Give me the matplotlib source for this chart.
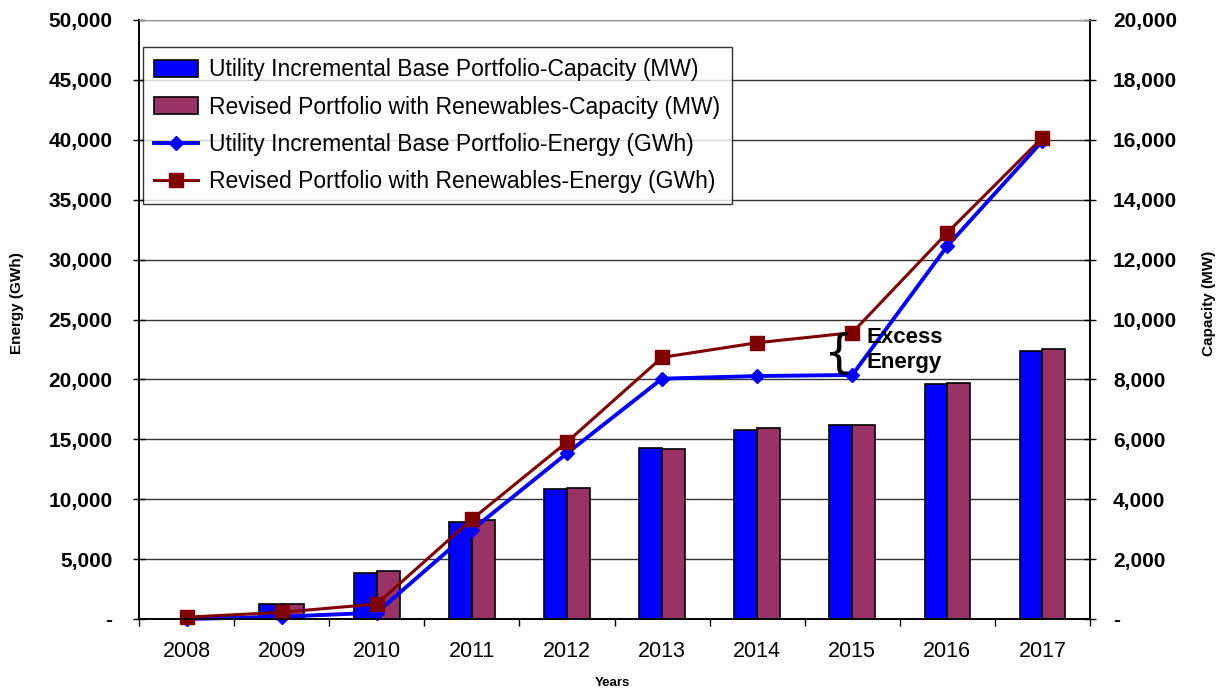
import numpy as np
import matplotlib.pyplot as plt
from matplotlib.ticker import FuncFormatter, FixedLocator

plt.rcParams['font.family'] = ['Liberation Sans', 'DejaVu Sans']

# data
years = ['2008', '2009', '2010', '2011', '2012', '2013', '2014', '2015', '2016', '2017']
base_capacity = [0, 500, 1525, 3240, 4350, 5720, 6310, 6470, 7850, 8950]      # MW
renew_capacity = [0, 500, 1600, 3295, 4365, 5675, 6365, 6470, 7890, 9025]     # MW
base_energy = [0, 190, 530, 7430, 13830, 20060, 20280, 20370, 31140, 39900]   # GWh
renew_energy = [150, 560, 1250, 8320, 14770, 21840, 23060, 23900, 32250, 40180]  # GWh

W, H = 1224, 692
fig = plt.figure(figsize=(W / 100, H / 100), dpi=100)
ax = fig.add_axes([139/W, 1 - 619/H, 951/W, 599/H])
ax2 = ax.twinx()

x = np.arange(len(years))
w = 0.24

# capacity bars on right scale
b1 = ax2.bar(x - w/2, base_capacity, w, color='#0000FF', edgecolor='black', lw=1.2,
             label='Utility Incremental Base Portfolio-Capacity (MW)', zorder=2)
b2 = ax2.bar(x + w/2, renew_capacity, w, color='#993366', edgecolor='black', lw=1.2,
             label='Revised Portfolio with Renewables-Capacity (MW)', zorder=2)

# energy lines on left scale, drawn above bars
ax.set_zorder(ax2.get_zorder() + 1)
ax.patch.set_visible(False)
l1, = ax.plot(x, base_energy, color='#0000FF', lw=2.8, marker='D', ms=7.5,
              label='Utility Incremental Base Portfolio-Energy (GWh)', clip_on=False)
l2, = ax.plot(x, renew_energy, color='#800000', lw=2.2, marker='s', ms=10,
              label='Revised Portfolio with Renewables-Energy (GWh)', clip_on=False)

ax.set_xlim(-0.5, len(years) - 0.5)
ax.set_ylim(0, 50000)
ax2.set_ylim(0, 20000)

fmt = FuncFormatter(lambda v, p: '-' if v == 0 else f'{int(v):,}')
ax.yaxis.set_major_locator(FixedLocator(np.arange(0, 50001, 5000)))
ax2.yaxis.set_major_locator(FixedLocator(np.arange(0, 20001, 2000)))
ax.yaxis.set_major_formatter(fmt)
ax2.yaxis.set_major_formatter(fmt)
ax.tick_params(axis='y', direction='inout', length=8, width=1, labelsize=15, pad=15)
ax2.tick_params(axis='y', direction='inout', length=8, width=1, labelsize=15, pad=12.5)
for a in (ax, ax2):
    for t in a.get_yticklabels():
        t.set_fontweight('bold')

ax2.grid(axis='y', color='#333333', lw=1)
ax2.set_axisbelow(True)

ax.set_xticks(x)
ax.set_xticklabels(years)
ax.set_xticks(np.arange(-0.5, len(years), 1), minor=True)
ax.tick_params(axis='x', which='major', length=0, labelsize=15.5, pad=16)
ax.tick_params(axis='x', which='minor', direction='out', length=5, width=1)

for a in (ax, ax2):
    a.spines['top'].set_color('#999999')
    a.spines['left'].set_linewidth(1.2)
    a.spines['right'].set_linewidth(1.2)
    a.spines['bottom'].set_linewidth(1.2)

fig.text(17/W, 1 - 303/H, 'Energy (GWh)', rotation=90, fontsize=11, fontweight='bold',
         ha='center', va='center')
fig.text(1209/W, 1 - 303/H, 'Capacity (MW)', rotation=90, fontsize=11, fontweight='bold',
         ha='center', va='center')
fig.text(612/W, 1 - 683/H, 'Years', fontsize=9.5, fontweight='bold', ha='center', va='center')

# excess energy annotation
ax.text(6.85, 22100, '{', fontsize=34, ha='center', va='center', family='DejaVu Sans')
ax.text(7.155, 22450, 'Excess\nEnergy', fontsize=16, fontweight='bold', ha='left',
        va='center', linespacing=1.3)

leg = ax.legend(handles=[b1, b2, l1, l2], loc='upper left', bbox_to_anchor=(0.004, 0.955),
                fontsize=16.5, frameon=True, fancybox=False, edgecolor='black',
                borderaxespad=0, handlelength=1.9, handleheight=0.75, labelspacing=0.62,
                handletextpad=0.5, borderpad=0.5)
leg.get_frame().set_linewidth(1)

fig.savefig('out.png', dpi=100)
